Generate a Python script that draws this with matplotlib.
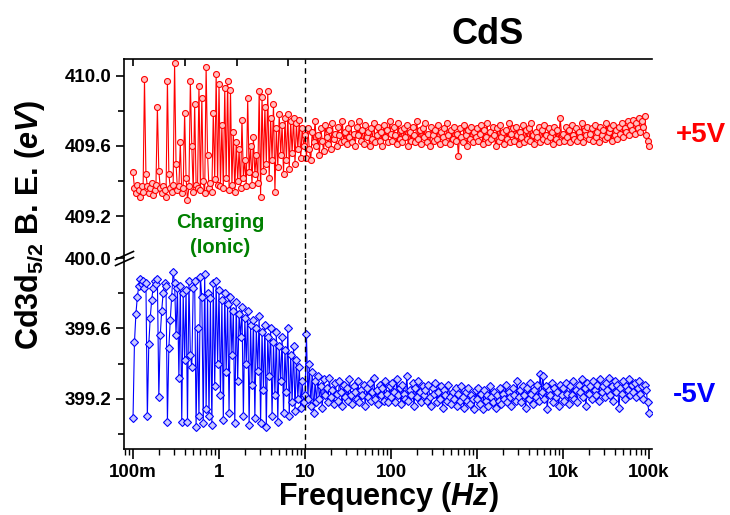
import numpy as np
import matplotlib
matplotlib.use('Agg')
import matplotlib.pyplot as plt
from matplotlib.ticker import FixedLocator, NullLocator, LogLocator, FixedFormatter
from matplotlib.transforms import offset_copy

plt.rcParams['font.family'] = ['Liberation Sans', 'DejaVu Sans']
plt.rcParams['font.weight'] = 'bold'
plt.rcParams['mathtext.fontset'] = 'custom'
plt.rcParams['mathtext.rm'] = 'Liberation Sans:bold'
plt.rcParams['mathtext.bf'] = 'Liberation Sans:bold'
plt.rcParams['mathtext.it'] = 'Liberation Sans:italic:bold'

# ---------------- data ----------------
f_start, f_stop = 0.1, 1e5   # log frequency sweep (Hz)

be_plus5V = [
    # 0.1 - 1 Hz
    409.45, 409.36, 409.33, 409.38, 409.35, 409.31, 409.37, 409.34, 409.98, 409.44,
    409.37, 409.33, 409.36, 409.39, 409.32, 409.35, 409.38, 409.82, 409.46, 409.36,
    409.33, 409.37, 409.35, 409.31, 409.97, 409.44, 409.36, 409.34, 409.38, 410.07,
    409.50, 409.35, 409.37, 409.62, 409.33, 409.36, 409.79, 409.42, 409.29, 409.37,
    409.97, 409.60, 409.34, 409.84, 409.38, 409.36, 409.94, 409.35, 409.87, 409.40,
    409.33, 410.05, 409.55, 409.36, 409.39, 409.34, 409.79, 409.41, 410.01, 409.38,
    # 1 - 10 Hz
    409.95, 409.37, 409.72, 409.36, 409.93, 409.42, 409.97, 409.35, 409.92, 409.38,
    409.68, 409.34, 409.62, 409.40, 409.58, 409.36, 409.75, 409.42, 409.52, 409.37,
    409.87, 409.45, 409.60, 409.38, 409.65, 409.44, 409.55, 409.39, 409.91, 409.31,
    409.88, 409.46, 409.82, 409.50, 409.91, 409.42, 409.76, 409.52, 409.84, 409.34,
    409.70, 409.48, 409.78, 409.55, 409.72, 409.44, 409.76, 409.52, 409.78, 409.47,
    409.74, 409.56, 409.76, 409.50, 409.73, 409.58, 409.75, 409.53, 409.70, 409.60,
    # 10 - 100 Hz
    409.66, 409.53, 409.70, 409.58, 409.52, 409.68, 409.62, 409.74, 409.60, 409.66,
    409.55, 409.70, 409.63, 409.57, 409.72, 409.65, 409.61, 409.69, 409.58, 409.73,
    409.64, 409.67, 409.60, 409.71, 409.66, 409.62, 409.74, 409.63, 409.68, 409.61,
    409.70, 409.65, 409.73, 409.62, 409.67, 409.60, 409.71, 409.66, 409.74, 409.63,
    409.69, 409.61, 409.72, 409.65, 409.68, 409.60, 409.70, 409.64, 409.73, 409.62,
    409.66, 409.71, 409.63, 409.68, 409.60, 409.72, 409.65, 409.69, 409.62, 409.74,
    # 100 Hz - 1 kHz
    409.67, 409.63, 409.71, 409.66, 409.61, 409.73, 409.64, 409.69, 409.62, 409.70,
    409.65, 409.72, 409.60, 409.68, 409.63, 409.71, 409.66, 409.62, 409.74, 409.64,
    409.69, 409.61, 409.70, 409.65, 409.73, 409.62, 409.67, 409.60, 409.71, 409.66,
    409.63, 409.69, 409.64, 409.72, 409.61, 409.68, 409.65, 409.70, 409.62, 409.73,
    409.66, 409.61, 409.69, 409.64, 409.71, 409.63, 409.67, 409.54, 409.70, 409.65,
    409.62, 409.72, 409.66, 409.60, 409.69, 409.64, 409.71, 409.62, 409.68, 409.65,
    # 1 kHz - 10 kHz
    409.70, 409.63, 409.67, 409.72, 409.61, 409.69, 409.65, 409.73, 409.62, 409.68,
    409.64, 409.71, 409.66, 409.60, 409.70, 409.63, 409.72, 409.65, 409.68, 409.61,
    409.69, 409.64, 409.73, 409.62, 409.67, 409.70, 409.63, 409.71, 409.66, 409.61,
    409.68, 409.65, 409.72, 409.62, 409.69, 409.64, 409.70, 409.63, 409.73, 409.66,
    409.61, 409.68, 409.65, 409.71, 409.62, 409.69, 409.64, 409.72, 409.66, 409.63,
    409.70, 409.65, 409.68, 409.61, 409.71, 409.64, 409.69, 409.62, 409.76, 409.66,
    # 10 kHz - 100 kHz
    409.67, 409.63, 409.71, 409.65, 409.69, 409.62, 409.72, 409.66, 409.64, 409.70,
    409.63, 409.68, 409.65, 409.73, 409.62, 409.69, 409.66, 409.71, 409.64, 409.67,
    409.70, 409.63, 409.72, 409.65, 409.68, 409.62, 409.71, 409.66, 409.69, 409.64,
    409.73, 409.65, 409.68, 409.70, 409.63, 409.72, 409.66, 409.69, 409.64, 409.71,
    409.67, 409.73, 409.65, 409.70, 409.68, 409.74, 409.66, 409.72, 409.69, 409.75,
    409.67, 409.73, 409.70, 409.76, 409.68, 409.74, 409.71, 409.77, 409.66, 409.63,
    409.60,
]

be_minus5V = [
    # 0.1 - 1 Hz
    399.09, 399.52, 399.68, 399.78, 399.84, 399.88, 399.85, 399.87, 399.83, 399.86,
    399.10, 399.51, 399.66, 399.76, 399.83, 399.87, 399.85, 399.88, 399.21, 399.56,
    399.70, 399.80, 399.86, 399.84, 399.07, 399.49, 399.65, 399.78, 399.92, 399.86,
    399.56, 399.83, 399.32, 399.84, 399.07, 399.80, 399.42, 399.82, 399.07, 399.87,
    399.45, 399.38, 399.83, 399.87, 399.04, 399.60, 399.10, 399.89, 399.78, 399.06,
    399.91, 399.14, 399.80, 399.10, 399.77, 399.05, 399.86, 399.27, 399.87, 399.40,
    # 1 - 10 Hz
    399.82, 399.22, 399.76, 399.08, 399.80, 399.35, 399.74, 399.12, 399.78, 399.45,
    399.70, 399.06, 399.75, 399.30, 399.68, 399.55, 399.72, 399.10, 399.66, 399.40,
    399.70, 399.05, 399.62, 399.28, 399.65, 399.09, 399.60, 399.36, 399.67, 399.06,
    399.58, 399.25, 399.62, 399.04, 399.55, 399.33, 399.60, 399.10, 399.52, 399.22,
    399.58, 399.07, 399.50, 399.30, 399.55, 399.12, 399.48, 399.24, 399.60, 399.10,
    399.45, 399.18, 399.50, 399.13, 399.42, 399.20, 399.38, 399.15, 399.30, 399.18,
    # 10 - 100 Hz
    399.22, 399.57, 399.20, 399.40, 399.16, 399.35, 399.12, 399.30, 399.18, 399.33,
    399.20, 399.27, 399.15, 399.31, 399.22, 399.26, 399.18, 399.32, 399.21, 399.25,
    399.17, 399.29, 399.23, 399.19, 399.30, 399.24, 399.16, 399.28, 399.21, 399.26,
    399.19, 399.31, 399.22, 399.17, 399.27, 399.24, 399.20, 399.30, 399.18, 399.25,
    399.22, 399.28, 399.16, 399.26, 399.21, 399.29, 399.19, 399.24, 399.32, 399.20,
    399.25, 399.17, 399.28, 399.22, 399.26, 399.19, 399.30, 399.23, 399.18, 399.27,
    # 100 Hz - 1 kHz
    399.21, 399.29, 399.24, 399.18, 399.31, 399.22, 399.26, 399.17, 399.28, 399.23,
    399.20, 399.33, 399.19, 399.25, 399.22, 399.29, 399.16, 399.26, 399.21, 399.30,
    399.24, 399.18, 399.27, 399.22, 399.25, 399.19, 399.28, 399.21, 399.16, 399.26,
    399.23, 399.29, 399.18, 399.24, 399.20, 399.27, 399.15, 399.25, 399.22, 399.19,
    399.28, 399.21, 399.17, 399.24, 399.20, 399.26, 399.16, 399.23, 399.19, 399.27,
    399.21, 399.15, 399.24, 399.19, 399.26, 399.17, 399.22, 399.20, 399.14, 399.25,
    # 1 kHz - 10 kHz
    399.20, 399.26, 399.17, 399.23, 399.14, 399.25, 399.19, 399.22, 399.16, 399.27,
    399.21, 399.18, 399.24, 399.15, 399.22, 399.19, 399.26, 399.17, 399.23, 399.20,
    399.28, 399.18, 399.24, 399.21, 399.16, 399.26, 399.22, 399.19, 399.30, 399.21,
    399.25, 399.18, 399.27, 399.22, 399.15, 399.26, 399.20, 399.29, 399.23, 399.17,
    399.25, 399.21, 399.28, 399.19, 399.34, 399.24, 399.33, 399.20, 399.27, 399.14,
    399.25, 399.22, 399.29, 399.18, 399.26, 399.21, 399.24, 399.16, 399.28, 399.22,
    # 10 kHz - 100 kHz
    399.26, 399.19, 399.29, 399.23, 399.17, 399.27, 399.22, 399.30, 399.20, 399.25,
    399.18, 399.28, 399.24, 399.31, 399.21, 399.26, 399.16, 399.29, 399.23, 399.27,
    399.20, 399.30, 399.25, 399.22, 399.28, 399.19, 399.31, 399.24, 399.27, 399.21,
    399.29, 399.25, 399.32, 399.22, 399.27, 399.19, 399.30, 399.24, 399.28, 399.15,
    399.26, 399.23, 399.30, 399.20, 399.27, 399.25, 399.31, 399.22, 399.28, 399.24,
    399.29, 399.21, 399.26, 399.30, 399.23, 399.27, 399.20, 399.28, 399.25, 399.18,
    399.12,
]

freq_plus = np.geomspace(f_start, f_stop, len(be_plus5V))
freq_minus = np.geomspace(f_start, f_stop, len(be_minus5V))

xtick_vals = [0.1, 1, 10, 100, 1e3, 1e4, 1e5]
xtick_labels = ['100m', '1', '10', '100', '1k', '10k', '100k']
top_major = [409.2, 409.6, 410.0]
top_minor = [409.4, 409.8]
bot_major = [399.2, 399.6, 400.0]
bot_minor = [399.0, 399.4, 399.8]
top_extra_ticks = [0.1, 0.4, 1.6, 6.3]
boundary_freq = 10

# ---------------- figure ----------------
fig = plt.figure(figsize=(7.3, 5.15), dpi=100)
L, W = 0.1699, 0.7233
ax_top = fig.add_axes([L, 0.4990, W, 0.3864])
ax_bot = fig.add_axes([L, 0.1282, W, 0.3708], sharex=ax_top)

red = '#ff0000'
blue = '#0000ff'
ax_top.plot(freq_plus, be_plus5V, color=red, lw=0.8, marker='o', ms=4.3,
            mfc='#ffc0c0', mec=red, mew=0.8)
ax_bot.plot(freq_minus, be_minus5V, color=blue, lw=0.8, marker='D', ms=3.6,
            mfc='#c8c8ff', mec=blue, mew=0.8)

for ax in (ax_top, ax_bot):
    ax.set_xscale('log')
    ax.axvline(boundary_freq, color='black', lw=1.0, ls=(0, (4, 3)))
    ax.spines['right'].set_visible(False)
    for s in ax.spines.values():
        s.set_linewidth(1.2)
    ax.tick_params(axis='y', which='major', direction='out', length=6, width=1.2,
                   labelsize=13.5, pad=3)
    ax.tick_params(axis='y', which='minor', direction='out', length=4, width=1.2)

ax_top.set_xlim(0.0786, 1.084e5)
ax_top.set_ylim(408.963, 410.094)
ax_bot.set_ylim(398.915, 400.0)

ax_top.spines['bottom'].set_visible(False)
ax_bot.spines['top'].set_visible(False)

ax_top.yaxis.set_major_locator(FixedLocator(top_major))
ax_top.yaxis.set_minor_locator(FixedLocator(top_minor))
ax_top.yaxis.set_major_formatter(FixedFormatter([f'{v:.1f}' for v in top_major]))
ax_bot.yaxis.set_major_locator(FixedLocator(bot_major))
ax_bot.yaxis.set_minor_locator(FixedLocator(bot_minor))
ax_bot.yaxis.set_major_formatter(FixedFormatter([f'{v:.1f}' for v in bot_major]))

ax_top.tick_params(axis='x', which='both', bottom=False, top=False,
                   labelbottom=False, labeltop=False)

ax_bot.xaxis.set_major_locator(FixedLocator(xtick_vals))
ax_bot.xaxis.set_major_formatter(FixedFormatter(xtick_labels))
ax_bot.xaxis.set_minor_locator(LogLocator(base=10, subs=np.arange(2, 10), numticks=20))
ax_bot.tick_params(axis='x', which='major', direction='out', length=7, width=1.2,
                   labelsize=13.5, pad=4)
ax_bot.tick_params(axis='x', which='minor', direction='out', length=4, width=1.0)
for lab in ax_bot.get_xticklabels() + ax_bot.get_yticklabels() + ax_top.get_yticklabels():
    lab.set_fontweight('bold')

# extra ticks on top frame
tw = ax_top.twiny()
tw.set_xscale('log')
tw.set_xlim(ax_top.get_xlim())
tw.xaxis.set_major_locator(FixedLocator(top_extra_ticks))
tw.xaxis.set_minor_locator(NullLocator())
tw.tick_params(axis='x', which='major', direction='in', length=5, width=1.2,
               labeltop=False, top=True, bottom=False)
for s in tw.spines.values():
    s.set_visible(False)
ax_top.tick_params(axis='x', which='both', bottom=False, labelbottom=False)

# axis break mark on the left spine
for dy in (-3, 3):
    tr = offset_copy(ax_bot.transAxes, fig=fig, x=0, y=dy, units='dots')
    ax_bot.plot([0], [1], transform=tr, marker=[(-1, -0.45), (1, 0.45)], ms=14,
                ls='none', color='black', mec='black', mew=1.2, clip_on=False)

# texts
fig.text(488 / 730, 1 - 35 / 515, 'CdS', fontsize=26, fontweight='bold',
         ha='center', va='center')
fig.text(0.532, 1 - 497 / 515, r'Frequency $\mathit{(Hz)}$', fontsize=22,
         fontweight='bold', ha='center', va='center')
fig.text(30 / 730, 1 - 225 / 515, r'Cd3d$_{5/2}$ B. E. $\mathit{(eV)}$', fontsize=22,
         fontweight='bold', ha='center', va='center', rotation=90)
fig.text(701 / 730, 1 - 135 / 515, '+5V', fontsize=20, fontweight='bold',
         color=red, ha='center', va='center')
fig.text(695 / 730, 1 - 395 / 515, '-5V', fontsize=20, fontweight='bold',
         color=blue, ha='center', va='center')
fig.text(220 / 730, 1 - 235 / 515, 'Charging\n(Ionic)', fontsize=14.5,
         fontweight='bold', color='#008000', ha='center', va='center',
         linespacing=1.4)

fig.savefig('out.png', dpi=100)
